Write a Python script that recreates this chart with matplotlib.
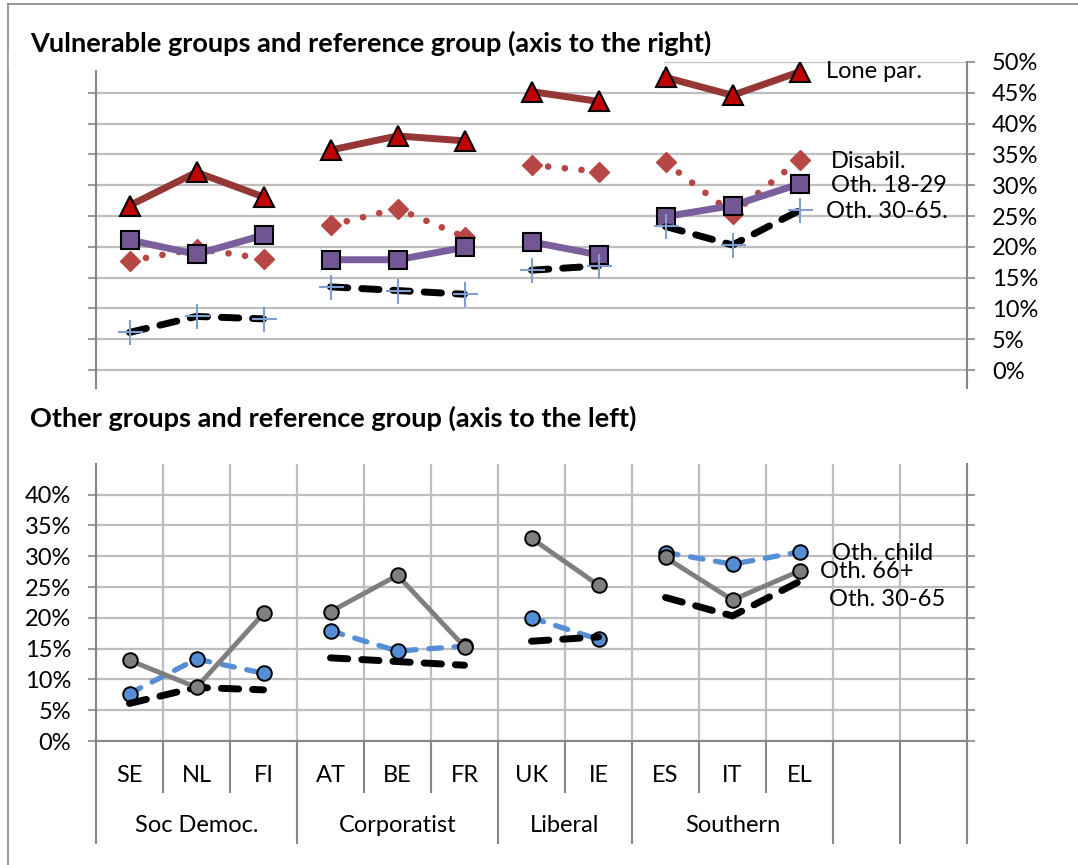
import numpy as np
import matplotlib.pyplot as plt
import matplotlib.transforms as mtrans
from matplotlib.lines import Line2D
from matplotlib.patches import Rectangle

plt.rcParams['font.family'] = ['Lato', 'DejaVu Sans']

# data (percent)
countries = ['SE', 'NL', 'FI', 'AT', 'BE', 'FR', 'UK', 'IE', 'ES', 'IT', 'EL']
regimes = ['Soc Democ.', 'Corporatist', 'Liberal', 'Southern']
regime_sizes = [3, 3, 2, 3]
n_slots = 13

lone_par = [26.7, 32.1, 28.1, 35.7, 38.0, 37.2, 45.2, 43.6, 47.5, 44.6, 48.4]
disabil = [17.7, 19.7, 18.1, 23.5, 26.2, 21.6, 33.3, 32.2, 33.7, 25.4, 34.1]
oth_18_29 = [21.1, 18.8, 21.9, 17.9, 17.9, 19.9, 20.8, 18.7, 24.9, 26.7, 30.2]
oth_30_65 = [6.1, 8.7, 8.3, 13.5, 12.9, 12.3, 16.2, 16.9, 23.3, 20.3, 25.9]
oth_child = [7.7, 13.3, 11.0, 17.9, 14.6, 15.4, 20.0, 16.5, 30.6, 28.7, 30.7]
oth_66 = [13.1, 8.7, 20.7, 21.0, 26.9, 15.3, 32.9, 25.3, 29.8, 22.9, 27.6]

top_ticks = [0, 5, 10, 15, 20, 25, 30, 35, 40, 45, 50]
bottom_ticks = [0, 5, 10, 15, 20, 25, 30, 35, 40]

W, H = 1078, 865
fig = plt.figure(figsize=(W / 100, H / 100), dpi=100)


def fx(px):
    return px / W


def fy(py):
    return 1 - py / H


def plot_groups(ax, vals, **kw):
    start = 0
    for n in regime_sizes:
        xs = np.arange(start, start + n) + 0.5
        ax.plot(xs, vals[start:start + n], **kw)
        start += n


grid_c = '#BEBEBE'
spine_c = '#868686'
fs = 17

# ---------------- top panel ----------------
ax1 = fig.add_axes([fx(96), fy(388), fx(967) - fx(96), fy(62) - fy(388)])
ax1.set_xlim(0, n_slots)
ax1.set_ylim(-2.92, 50)
for v in top_ticks:
    ax1.axhline(v, color=grid_c, lw=1.6, zorder=0)
ax1.set_yticks(top_ticks)
ax1.set_yticklabels([f'{v}%' for v in top_ticks], fontsize=fs)
ax1.yaxis.tick_right()
ax1.tick_params(axis='y', left=True, right=True, labelleft=False, labelright=True,
                length=6, width=1.2, color=spine_c, pad=12, direction='out')
ax1.set_xticks([])
for s in ['top', 'bottom']:
    ax1.spines[s].set_visible(False)
for s in ['left', 'right']:
    ax1.spines[s].set_color(spine_c)
    ax1.spines[s].set_linewidth(1.5)

plot_groups(ax1, disabil, color='#B64744', lw=4.8, linestyle=(0, (0.01, 2.5)),
            dash_capstyle='round', marker='D', ms=10.5, mfc='#B64744', mec='#B64744', zorder=3)
plot_groups(ax1, lone_par, color='#953735', lw=5.0, marker='^', ms=14,
            mfc='#C00000', mec='black', mew=1.5, zorder=4)
plot_groups(ax1, oth_18_29, color='#7B5E9E', lw=5.0, marker='s', ms=13.5,
            mfc='#735794', mec='black', mew=1.5, zorder=5)
plot_groups(ax1, oth_30_65, color='black', lw=5.0, linestyle=(0, (2.5, 2.0)),
            dash_capstyle='round', zorder=6)
plot_groups(ax1, oth_30_65, color='#7F9FD0', lw=0, marker='+', ms=18, mew=1.5, zorder=7)

# ---------------- bottom panel ----------------
ax2 = fig.add_axes([fx(96), fy(741), fx(967) - fx(96), fy(464) - fy(741)])
ax2.set_xlim(0, n_slots)
ax2.set_ylim(0, 44.97)
for v in bottom_ticks:
    ax2.axhline(v, color=grid_c, lw=1.6, zorder=0)
for b in range(1, n_slots):
    ax2.axvline(b, color=grid_c, lw=1.6, zorder=0)
ax2.set_yticks(bottom_ticks)
ax2.set_yticklabels([f'{v}%' for v in bottom_ticks], fontsize=fs)
ax2.tick_params(axis='y', left=True, right=True, labelleft=True, labelright=False,
                length=6, width=1.2, color=spine_c, pad=12, direction='out')
ax2.set_xticks([])
ax2.spines['top'].set_visible(False)
for s in ['left', 'right', 'bottom']:
    ax2.spines[s].set_color(spine_c)
    ax2.spines[s].set_linewidth(1.5)

plot_groups(ax2, oth_child, color='#558ED5', lw=3.8, linestyle=(0, (2.4, 2.4)),
            dash_capstyle='round', marker='o', ms=10.5, mfc='#558ED5', mec='black', mew=1.4, zorder=3)
plot_groups(ax2, oth_30_65, color='black', lw=5.0, linestyle=(0, (2.5, 2.0)),
            dash_capstyle='round', zorder=4)
plot_groups(ax2, oth_66, color='#7F7F7F', lw=3.5, marker='o', ms=10.5,
            mfc='#7F7F7F', mec='black', mew=1.4, zorder=5)

# category table under bottom panel
tr = mtrans.blended_transform_factory(ax2.transData, ax2.transAxes)
ax_h = 741 - 464
short_y = -(792 - 741) / ax_h
long_y = -(843 - 741) / ax_h
group_edges = list(np.cumsum([0] + regime_sizes)) + [12, 13]
for b in range(0, n_slots + 1):
    yb = long_y if b in group_edges else short_y
    ax2.add_line(Line2D([b, b], [0, yb], transform=tr, color=spine_c, lw=1.5, clip_on=False))
for i, c in enumerate(countries):
    ax2.text(i + 0.5, -(775 - 741) / ax_h, c, transform=tr, ha='center', va='center', fontsize=17)
start = 0
for name, n in zip(regimes, regime_sizes):
    ax2.text(start + n / 2, -(826 - 741) / ax_h, name, transform=tr,
             ha='center', va='center', fontsize=17)
    start += n

# titles and series labels
fig.add_artist(Rectangle((fx(9), fy(69)), fx(663) - fx(9), fy(50) - fy(69),
                         transform=fig.transFigure, color='white', zorder=10))
fig.text(fx(30), fy(43), 'Vulnerable groups and reference group (axis to the right)',
         fontsize=19.5, fontweight='bold', ha='left', va='center', zorder=11)
fig.text(fx(30), fy(418), 'Other groups and reference group (axis to the left)',
         fontsize=19.5, fontweight='bold', ha='left', va='center', zorder=11)

lab_fs = 17
fig.text(fx(826), fy(72), 'Lone par.', fontsize=lab_fs, ha='left', va='center')
fig.text(fx(831), fy(162), 'Disabil.', fontsize=lab_fs, ha='left', va='center')
fig.text(fx(831), fy(185), 'Oth. 18-29', fontsize=lab_fs, ha='left', va='center')
fig.text(fx(826), fy(211), 'Oth. 30-65.', fontsize=lab_fs, ha='left', va='center')
fig.text(fx(832), fy(553), 'Oth. child', fontsize=lab_fs, ha='left', va='center')
fig.text(fx(820), fy(572), 'Oth. 66+', fontsize=lab_fs, ha='left', va='center')
fig.text(fx(829), fy(600), 'Oth. 30-65', fontsize=lab_fs, ha='left', va='center')

# outer border (top and left)
fig.add_artist(Line2D([fx(8), 1], [fy(4), fy(4)], transform=fig.transFigure, color=spine_c, lw=1.2))
fig.add_artist(Line2D([fx(8), fx(8)], [fy(4), 0], transform=fig.transFigure, color=spine_c, lw=1.2))

fig.savefig('out.png', dpi=100)
